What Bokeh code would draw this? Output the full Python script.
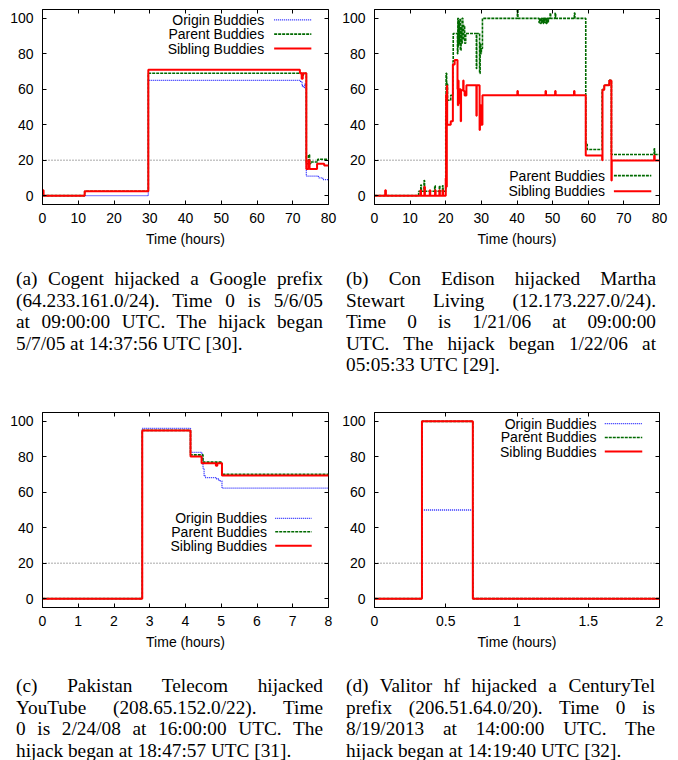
from bokeh.plotting import figure
from bokeh.models import Range1d, LinearAxis, Span, CustomJSTickFormatter, FixedTicker, Div
from bokeh.layouts import column, row
from bokeh.embed import file_html
from bokeh.resources import INLINE
from bokeh.core.properties import value

# ---------------- data ----------------
# Panel (a): Cogent / Google, x in hours (0-80)
A_origin_t = [0, 29.6, 72.2, 72.6, 73.0, 73.3, 73.8, 77.2, 78.4, 80]
A_origin_v = [0, 65, 64, 62, 61, 63, 11, 10, 9, 9]
A_parent_t = [0, 11.8, 29.6, 72.5, 73.0, 73.8, 74.4, 74.7, 75.0, 77.0, 80]
A_parent_v = [0, 2.5, 69, 68, 69, 18, 23, 18, 19, 20.5, 20.5]
A_sibling_t = [0, 0.3, 11.8, 29.6, 72.0, 72.5, 72.6, 72.7, 72.8, 73.0, 73.8, 74.4, 74.7, 76.8, 78.8, 80]
A_sibling_v = [3, 0, 2.5, 71, 69, 66, 69, 66, 69, 69, 15, 20, 15, 18, 17, 17]

# Panel (b): Con Edison / Martha Stewart Living
B_parent_t = [0, 12.4, 13.0, 13.15, 13.9, 14.05, 16.9, 17.05, 18.2, 18.35, 19.1, 19.25,
              20.0, 20.1, 20.25, 20.5, 21.4, 22.0, 22.1, 23.3, 23.4, 23.5, 23.6, 23.8,
              24.0, 24.1, 24.3, 24.5, 24.6, 24.8, 25.0, 25.3, 25.6, 28.6, 28.7, 29.5,
              29.65, 29.8, 30.0, 30.3, 40.1, 40.25, 46.2, 46.4, 46.6, 46.8, 47.0, 47.2,
              47.4, 47.6, 47.8, 48.0, 48.2, 48.4, 48.6, 48.8, 49.3, 49.45, 50.7, 50.85,
              56.1, 56.25, 59.3, 59.7, 63.9, 64.5, 65.9, 66.5, 78.5, 78.65, 80]
B_parent_v = [0, 2.5, 6, 2.5, 8.5, 2.5, 5.6, 2.5, 5.6, 2.5, 5.6, 2.5,
              45, 69, 63, 53.8, 56.6, 75.5, 91.5, 80, 100, 84, 98, 86,
              100, 82, 95, 86, 100, 88, 96, 86, 91.5, 71.7, 91.5, 68.9,
              86, 80, 83, 100, 105, 100, 97.5, 100, 97.2, 100, 97.5, 100,
              97.2, 100, 97.5, 100, 97.2, 100, 97.5, 100, 103, 100, 103, 100,
              103, 100, 29, 26, 59.8, 62.3, 65, 23.2, 26.4, 23.2, 23.2]
B_sibling_t = [0, 3.0, 3.2, 12.9, 13.05, 14.0, 14.15, 15.5, 15.65, 17.0, 17.15, 18.2, 18.35,
               19.1, 19.25, 20.0, 20.1, 20.2, 20.3, 20.4, 21.4, 22.0, 22.5, 23.3, 23.4,
               23.5, 23.6, 23.7, 24.2, 24.3, 24.9, 25.0, 25.3, 25.8, 28.6, 28.7, 29.5,
               29.6, 29.9, 30.3, 40.1, 40.25, 48.0, 48.15, 50.7, 50.85, 56.0, 56.15,
               59.3, 63.9, 64.0, 64.5, 65.9, 66.5, 66.6, 78.5, 78.65, 80]
B_sibling_v = [0, 3, 0, 3, 0, 5, 0, 3, 0, 3, 0, 3, 0,
               3, 0, 10, 57, 5, 62, 40, 42, 74, 76.5, 60, 51,
               65, 52, 60, 42, 59.5, 65, 59, 56.5, 62.3, 45, 62.3, 37,
               51, 40, 56.6, 59, 56.6, 59, 56.6, 59, 56.6, 59, 56.6,
               22.6, 20, 59.8, 62.3, 65, 8.5, 19.8, 22.6, 19.8, 19.8]

# Panel (c): Pakistan Telecom / YouTube
C_origin_t = [0, 2.79, 4.14, 4.46, 4.49, 4.52, 4.55, 4.87, 4.94, 5.02, 8]
C_origin_v = [0, 96, 82.5, 79, 73.6, 69.5, 68.3, 67.5, 66.4, 62.3, 62.3]
C_parent_t = [0, 2.79, 4.14, 4.49, 5.02, 8]
C_parent_v = [0, 94.9, 81.1, 77, 70.2, 70.2]
C_sibling_t = [0, 2.79, 4.14, 4.45, 4.85, 4.89, 5.02, 8]
C_sibling_v = [0, 94.9, 80.2, 76.4, 75, 76.4, 69.4, 69.4]

# Panel (d): Valitor hf / CenturyTel
D_t = [0, 0.333, 0.69, 2]
D_origin_v = [0, 50, 0, 0]
D_parent_v = [0, 100, 0, 0]
D_sibling_v = [0, 100, 0, 0]

THRESHOLD = 20
Y_TICKS = [0, 20, 40, 60, 80, 100]
X_TICKS_80 = [0, 10, 20, 30, 40, 50, 60, 70, 80]
X_TICKS_8 = [0, 1, 2, 3, 4, 5, 6, 7, 8]
X_TICKS_2 = [0, 0.5, 1, 1.5, 2]
X_LABEL = "Time (hours)"

CAP_A = ["(a) Cogent hijacked a Google prefix",
         "(64.233.161.0/24). Time 0 is 5/6/05",
         "at 09:00:00 UTC. The hijack began",
         "5/7/05 at 14:37:56 UTC [30]."]
CAP_B = ["(b) Con Edison hijacked Martha",
         "Stewart Living (12.173.227.0/24).",
         "Time 0 is 1/21/06 at 09:00:00",
         "UTC. The hijack began 1/22/06 at",
         "05:05:33 UTC [29]."]
CAP_C = ["(c) Pakistan Telecom hijacked",
         "YouTube (208.65.152.0/22). Time",
         "0 is 2/24/08 at 16:00:00 UTC. The",
         "hijack began at 18:47:57 UTC [31]."]
CAP_D = ["(d) Valitor hf hijacked a CenturyTel",
         "prefix (206.51.64.0/20). Time 0 is",
         "8/19/2013 at 14:00:00 UTC. The",
         "hijack began at 14:19:40 UTC [32]."]

# ---------------- styles ----------------
SANS = "Liberation Sans"
SERIF = "Liberation Serif"
STYLE = {
    "Origin Buddies": dict(line_color="#1f1fff", line_width=1.3, line_dash="1 1"),
    "Parent Buddies": dict(line_color="#006a00", line_width=1.6, line_dash="3 1"),
    "Sibling Buddies": dict(line_color="#ff0000", line_width=2.0, line_dash="solid"),
}


def style_axis(ax, ticks, labels=True, standoff=6):
    ax.ticker = FixedTicker(ticks=ticks)
    ax.minor_tick_line_color = None
    ax.major_tick_in = 4
    ax.major_tick_out = 0
    ax.major_tick_line_color = "black"
    ax.axis_line_color = "black"
    if labels:
        ax.formatter = CustomJSTickFormatter(code="return String(tick);")
        ax.major_label_text_font = SANS
        ax.major_label_text_font_size = "14px"
        ax.major_label_text_color = "black"
        ax.major_label_standoff = standoff
    else:
        ax.formatter = CustomJSTickFormatter(code="return '';")
        ax.major_label_text_font_size = "0px"
        ax.major_label_standoff = 0
        ax.axis_line_color = None


def make_panel(series, xmax, xticks, left, right, top, bottom, legend):
    h = top + 195 + bottom
    p = figure(width=339, height=h, x_range=Range1d(0, xmax), y_range=Range1d(-5, 105),
               output_backend="svg", toolbar_location=None,
               min_border_left=left, min_border_right=right,
               min_border_top=top, min_border_bottom=bottom)
    p.xgrid.visible = False
    p.ygrid.visible = False
    p.outline_line_color = "black"
    p.outline_line_width = 1
    p.outline_line_alpha = 1.0
    p.background_fill_color = "white"
    p.border_fill_color = "white"

    style_axis(p.xaxis[0], xticks, True, 8)
    p.xaxis[0].axis_label = X_LABEL
    p.xaxis[0].axis_label_text_font = SANS
    p.xaxis[0].axis_label_text_font_size = "14px"
    p.xaxis[0].axis_label_text_font_style = "normal"
    p.xaxis[0].axis_label_text_color = "black"
    p.xaxis[0].axis_label_standoff = 5
    style_axis(p.yaxis[0], Y_TICKS, True, 9)

    ax_top = LinearAxis()
    style_axis(ax_top, xticks, False)
    p.add_layout(ax_top, "above")
    ax_right = LinearAxis()
    style_axis(ax_right, Y_TICKS, False)
    p.add_layout(ax_right, "right")

    p.add_layout(Span(location=THRESHOLD, dimension="width", line_color="#555555",
                      line_dash="1 2", line_width=1, level="underlay"))

    for name, t, v in series:
        p.step(t, v, mode="after", **STYLE[name])

    # legend (gnuplot style: text right-aligned, sample on the right)
    tx, sx0, sx1, rows = legend
    for (name, _, _), ry in zip(series, rows):
        p.text(x=[tx], y=[ry], text=[name], text_align="right", text_baseline="middle",
               text_font=value(SANS), text_font_size="14px", text_color="black")
        p.line([sx0, sx1], [ry, ry], **STYLE[name])
    return p


pa = make_panel([("Origin Buddies", A_origin_t, A_origin_v),
                 ("Parent Buddies", A_parent_t, A_parent_v),
                 ("Sibling Buddies", A_sibling_t, A_sibling_v)],
                80, X_TICKS_80, 42, 11, 9, 46,
                (62.0, 64.8, 75.2, [99.1, 91.1, 83.0]))
pb = make_panel([("Parent Buddies", B_parent_t, B_parent_v),
                 ("Sibling Buddies", B_sibling_t, B_sibling_v)],
                80, X_TICKS_80, 33, 19, 9, 46,
                (64.7, 67.2, 77.7, [11.3, 2.5]))
pc = make_panel([("Origin Buddies", C_origin_t, C_origin_v),
                 ("Parent Buddies", C_parent_t, C_parent_v),
                 ("Sibling Buddies", C_sibling_t, C_sibling_v)],
                8, X_TICKS_8, 42, 11, 22, 46,
                (6.28, 6.51, 7.53, [45.3, 37.7, 29.8]))
pd_ = make_panel([("Origin Buddies", D_t, D_origin_v),
                  ("Parent Buddies", D_t, D_parent_v),
                  ("Sibling Buddies", D_t, D_sibling_v)],
                 2, X_TICKS_2, 33, 19, 22, 46,
                 (1.558, 1.616, 1.879, [98.7, 90.9, 83.0]))


def caption(lines, left, width, pad_top, height):
    parts = []
    for i, ln in enumerate(lines):
        last = i == len(lines) - 1
        al = "text-align:left;" if last else "text-align:justify;text-align-last:justify;"
        parts.append('<div style="%s white-space:nowrap;height:21.5px;">%s</div>' % (al, ln))
    html = ('<div style="font-family:\'%s\';font-size:19.3px;line-height:21.5px;color:#000;'
            'width:%dpx;margin-left:%dpx;padding-top:%dpx;">%s</div>'
            % (SERIF, width, left, pad_top, "".join(parts)))
    return Div(text=html, width=339, height=height, margin=0)


ca = caption(CAP_A, 16, 307, 18, 140)
cb = caption(CAP_B, 7, 310, 18, 140)
cc = caption(CAP_C, 16, 307, 22, 107)
cd = caption(CAP_D, 7, 309, 22, 107)

layout = column(row(pa, pb), row(ca, cb), row(pc, pd_), row(cc, cd))
open("out.html", "w").write(file_html(layout, INLINE))
